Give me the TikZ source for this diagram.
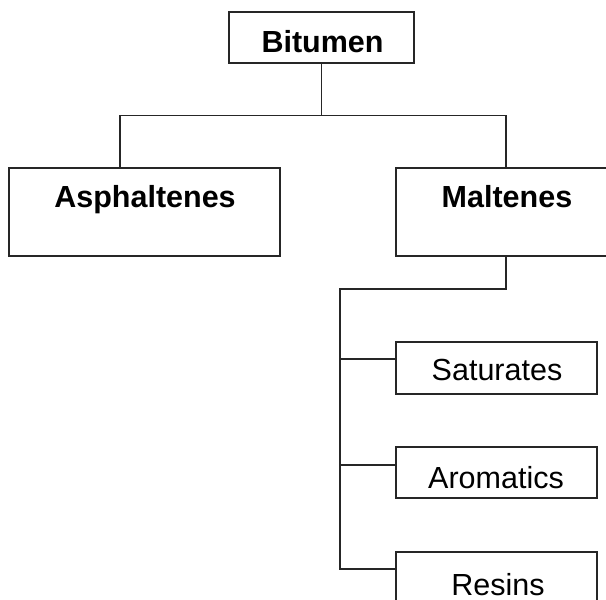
\documentclass[tikz,border=0pt]{standalone}
\usepackage{fontspec}
\setmainfont{Liberation Sans}
\begin{document}
\begin{tikzpicture}[x=1pt,y=-1pt,
  box/.style={draw=black!85, line width=1.6pt, rectangle, inner sep=0pt},
  bigtxt/.style={inner sep=0pt, anchor=base, font=\fontsize{30.5}{36}\selectfont\bfseries},
  smalltxt/.style={inner sep=0pt, anchor=base, font=\fontsize{30.5}{36}\selectfont},
  conn/.style={draw=black!85, line width=1.6pt}]
\useasboundingbox (0,0) rectangle (606,600);
\clip (0,0) rectangle (606,600);
% boxes
\node[box, minimum width=185pt, minimum height=51pt] (bit) at (321.5,37.5) {};
\node[box, minimum width=271pt, minimum height=88pt] (asp) at (144.5,212) {};
\node[box, minimum width=222pt, minimum height=88pt] (mal) at (507,212) {};
\node[box, minimum width=201pt, minimum height=52pt] (sat) at (496.5,368) {};
\node[box, minimum width=201pt, minimum height=51pt] (aro) at (496.5,472.5) {};
\node[box, minimum width=201pt, minimum height=51pt] (res) at (496.5,577.5) {};
% texts
\node[bigtxt] (bitT) at (322.5,52) {Bitumen};
\node[bigtxt] (aspT) at (145,207) {Asphaltenes};
\node[bigtxt] (malT) at (507,207) {Maltenes};
\node[smalltxt] (satT) at (497,380) {Saturates};
\node[smalltxt] (aroT) at (496,488) {Aromatics};
\node[smalltxt] (resT) at (498,595) {Resins};
% junctions
\coordinate (j0) at (321.5,115.5);
\coordinate (jl) at (120,115.5);
\coordinate (jr) at (506,115.5);
\coordinate (m1) at (506,289);
\coordinate (m2) at (340,289);
\coordinate (s0) at (340,359);
\coordinate (a0) at (340,465);
\coordinate (r0) at (340,569);
% connectors
\draw[conn] (bit.south) -- (j0);
\draw[conn] (jl |- asp.north) -- (jl) -- (jr) -- (jr |- mal.north);
\draw[conn] (m1 |- mal.south) -- (m1) -- (m2) -- (r0) -- (r0 -| res.west);
\draw[conn] (s0) -- (s0 -| sat.west);
\draw[conn] (a0) -- (a0 -| aro.west);
\end{tikzpicture}
\end{document}
